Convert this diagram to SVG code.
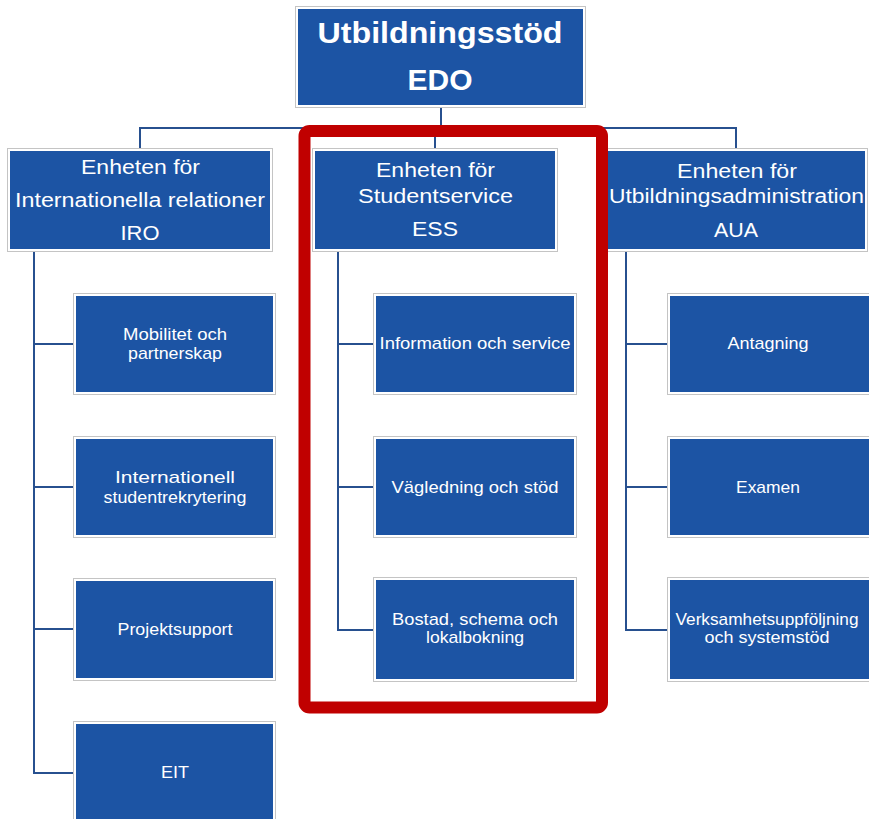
<svg xmlns="http://www.w3.org/2000/svg" width="869" height="819" viewBox="0 0 869 819">
<style>
.frame{fill:#ffffff;stroke:#c4c4c4;stroke-width:1}
.box{fill:#1c54a4}
.t{font-family:"Liberation Sans",Arial,sans-serif;fill:#ffffff;text-anchor:middle}
.title{font-size:30px;font-weight:bold}
.hd{font-size:20px}
.ch{font-size:17px}
.conn{fill:none;stroke:#27508f;stroke-width:2}
</style>
<g id="connectors">
<path class="conn" d="M441 107V128M140 149V128H736V149M435 128V149"/>
<path class="conn" d="M34 252V773H73M34 344H73M34 487H73M34 629H73"/>
<path class="conn" d="M338 251V630H374M338 344H374M338 487H374"/>
<path class="conn" d="M626 252V630H667M626 344H667M626 487H667"/>
</g>
<g id="edo">
<rect class="frame" x="295.5" y="6.5" width="290" height="101"/>
<rect class="box" x="298" y="9" width="285" height="96"/>
<text class="t title" x="440" y="43" textLength="245" lengthAdjust="spacingAndGlyphs">Utbildningsstöd</text>
<text class="t title" x="440" y="90">EDO</text>
</g>
<g id="iro">
<rect class="frame" x="7.5" y="148.5" width="265" height="103"/>
<rect class="box" x="10" y="151" width="260" height="98"/>
<text class="t hd" x="140.5" y="174" textLength="119" lengthAdjust="spacingAndGlyphs">Enheten för</text>
<text class="t hd" x="140" y="207" textLength="250" lengthAdjust="spacingAndGlyphs">Internationella relationer</text>
<text class="t hd" x="140" y="240" textLength="39" lengthAdjust="spacingAndGlyphs">IRO</text>
</g>
<g id="ess">
<rect class="frame" x="312.5" y="148.5" width="245" height="103"/>
<rect class="box" x="315" y="151" width="240" height="98"/>
<text class="t hd" x="435.5" y="177" textLength="119" lengthAdjust="spacingAndGlyphs">Enheten för</text>
<text class="t hd" x="435.5" y="203" textLength="155" lengthAdjust="spacingAndGlyphs">Studentservice</text>
<text class="t hd" x="435" y="236" textLength="46" lengthAdjust="spacingAndGlyphs">ESS</text>
</g>
<g id="aua">
<rect class="frame" x="605.5" y="148.5" width="262" height="103"/>
<rect class="box" x="608" y="151" width="257" height="98"/>
<text class="t hd" x="737" y="178" textLength="120" lengthAdjust="spacingAndGlyphs">Enheten för</text>
<text class="t hd" x="736.5" y="203" textLength="255" lengthAdjust="spacingAndGlyphs">Utbildningsadministration</text>
<text class="t hd" x="736" y="237" textLength="44" lengthAdjust="spacingAndGlyphs">AUA</text>
</g>
<g id="mobilitet">
<rect class="frame" x="73.5" y="293.5" width="202" height="101"/>
<rect class="box" x="76" y="296" width="197" height="96"/>
<text class="t ch" x="175" y="340" textLength="104" lengthAdjust="spacingAndGlyphs">Mobilitet och</text>
<text class="t ch" x="175" y="359" textLength="94" lengthAdjust="spacingAndGlyphs">partnerskap</text>
</g>
<g id="internationell">
<rect class="frame" x="73.5" y="436.5" width="202" height="101"/>
<rect class="box" x="76" y="439" width="197" height="96"/>
<text class="t ch" x="175" y="483" textLength="120" lengthAdjust="spacingAndGlyphs">Internationell</text>
<text class="t ch" x="175" y="503" textLength="143" lengthAdjust="spacingAndGlyphs">studentrekrytering</text>
</g>
<g id="projektsupport">
<rect class="frame" x="73.5" y="578.5" width="202" height="102"/>
<rect class="box" x="76" y="581" width="197" height="97"/>
<text class="t ch" x="175" y="635" textLength="115" lengthAdjust="spacingAndGlyphs">Projektsupport</text>
</g>
<g id="eit">
<rect class="frame" x="73.5" y="721.5" width="202" height="102"/>
<rect class="box" x="76" y="724" width="197" height="97"/>
<text class="t ch" x="175" y="778" textLength="28" lengthAdjust="spacingAndGlyphs">EIT</text>
</g>
<g id="information">
<rect class="frame" x="373.5" y="293.5" width="203" height="101"/>
<rect class="box" x="376" y="296" width="198" height="96"/>
<text class="t ch" x="475" y="349" textLength="191" lengthAdjust="spacingAndGlyphs">Information och service</text>
</g>
<g id="vagledning">
<rect class="frame" x="373.5" y="436.5" width="203" height="101"/>
<rect class="box" x="376" y="439" width="198" height="96"/>
<text class="t ch" x="475" y="493" textLength="167" lengthAdjust="spacingAndGlyphs">Vägledning och stöd</text>
</g>
<g id="bostad">
<rect class="frame" x="373.5" y="577.5" width="203" height="104"/>
<rect class="box" x="376" y="580" width="198" height="99"/>
<text class="t ch" x="475" y="625" textLength="166" lengthAdjust="spacingAndGlyphs">Bostad, schema och</text>
<text class="t ch" x="475" y="643" textLength="98" lengthAdjust="spacingAndGlyphs">lokalbokning</text>
</g>
<g id="antagning">
<rect class="frame" x="667.5" y="293.5" width="203" height="101"/>
<rect class="box" x="670" y="296" width="200" height="96"/>
<text class="t ch" x="768" y="349" textLength="81" lengthAdjust="spacingAndGlyphs">Antagning</text>
</g>
<g id="examen">
<rect class="frame" x="667.5" y="436.5" width="203" height="101"/>
<rect class="box" x="670" y="439" width="200" height="96"/>
<text class="t ch" x="768" y="493" textLength="64" lengthAdjust="spacingAndGlyphs">Examen</text>
</g>
<g id="verksamhet">
<rect class="frame" x="667.5" y="577.5" width="203" height="104"/>
<rect class="box" x="670" y="580" width="200" height="99"/>
<text class="t ch" x="767" y="625" textLength="183" lengthAdjust="spacingAndGlyphs">Verksamhetsuppföljning</text>
<text class="t ch" x="767" y="643" textLength="125" lengthAdjust="spacingAndGlyphs">och systemstöd</text>
</g>
<g id="highlight">
<rect x="304.5" y="131" width="297.5" height="576.5" rx="5" fill="none" stroke="#c00000" stroke-width="12"/>
</g>
</svg>
